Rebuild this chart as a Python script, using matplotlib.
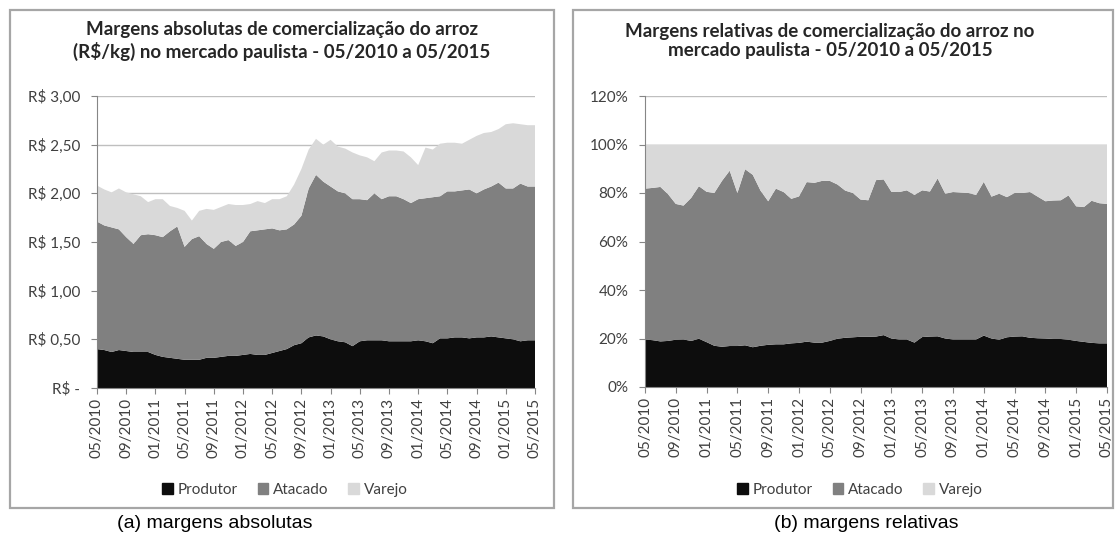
import matplotlib
matplotlib.use('Agg')
import matplotlib.pyplot as plt
from matplotlib.patches import Rectangle
import numpy as np

plt.rcParams['font.family'] = ['Lato', 'DejaVu Sans']

# meses de 05/2010 a 05/2015 (61 pontos), rótulos a cada 4 meses
tick_labels = ['05/2010', '09/2010', '01/2011', '05/2011', '09/2011', '01/2012',
               '05/2012', '09/2012', '01/2013', '05/2013', '09/2013', '01/2014',
               '05/2014', '09/2014', '01/2015', '05/2015']

# (a) margens absolutas, R$/kg
abs_produtor = [0.40, 0.39, 0.37, 0.39, 0.38, 0.37, 0.37, 0.37, 0.34, 0.32,
                0.31, 0.30, 0.29, 0.29, 0.29, 0.31, 0.31, 0.32, 0.33, 0.33,
                0.34, 0.35, 0.34, 0.34, 0.36, 0.38, 0.40, 0.44, 0.46, 0.52,
                0.54, 0.53, 0.50, 0.48, 0.47, 0.43, 0.48, 0.49, 0.49, 0.49,
                0.48, 0.48, 0.48, 0.48, 0.49, 0.48, 0.46, 0.51, 0.51, 0.52,
                0.52, 0.51, 0.52, 0.52, 0.53, 0.52, 0.51, 0.50, 0.48, 0.49, 0.49]
abs_atacado = [1.31, 1.28, 1.28, 1.24, 1.17, 1.11, 1.20, 1.21, 1.23, 1.23,
               1.30, 1.36, 1.16, 1.24, 1.27, 1.17, 1.12, 1.18, 1.19, 1.13,
               1.16, 1.26, 1.28, 1.29, 1.28, 1.24, 1.23, 1.24, 1.31, 1.53,
               1.65, 1.59, 1.57, 1.54, 1.53, 1.51, 1.46, 1.44, 1.51, 1.45,
               1.49, 1.49, 1.46, 1.42, 1.45, 1.47, 1.50, 1.46, 1.51, 1.50,
               1.51, 1.53, 1.48, 1.52, 1.54, 1.59, 1.54, 1.55, 1.62, 1.58, 1.58]
abs_varejo = [0.37, 0.37, 0.36, 0.42, 0.46, 0.51, 0.40, 0.33, 0.37, 0.39,
              0.26, 0.19, 0.37, 0.19, 0.26, 0.36, 0.40, 0.36, 0.37, 0.42,
              0.38, 0.28, 0.30, 0.27, 0.30, 0.32, 0.34, 0.41, 0.48, 0.40,
              0.37, 0.38, 0.48, 0.46, 0.46, 0.48, 0.45, 0.44, 0.33, 0.48,
              0.47, 0.47, 0.49, 0.47, 0.35, 0.52, 0.49, 0.54, 0.50, 0.50,
              0.48, 0.51, 0.59, 0.58, 0.56, 0.55, 0.66, 0.67, 0.61, 0.63, 0.63]

# (b) margens relativas, %
rel_produtor = [19.6, 19.3, 18.8, 19.0, 19.5, 19.6, 19.0, 19.9, 18.5, 17.0,
                16.6, 16.9, 16.9, 17.2, 16.4, 17.0, 17.4, 17.6, 17.6, 18.0,
                18.2, 18.7, 18.3, 18.3, 19.0, 19.9, 20.3, 20.5, 20.7, 20.7,
                20.8, 21.4, 20.0, 19.6, 19.6, 18.3, 20.6, 20.8, 20.9, 20.0,
                19.6, 19.6, 19.6, 19.6, 21.2, 20.0, 19.5, 20.5, 20.8, 20.9,
                20.3, 20.1, 20.0, 19.8, 19.8, 19.5, 19.0, 18.6, 18.2, 18.0, 18.0]
rel_atacado = [62.2, 62.8, 63.7, 60.5, 56.0, 55.2, 59.0, 62.9, 62.0, 63.0,
               68.4, 72.3, 63.1, 72.6, 71.1, 64.0, 59.2, 64.2, 62.8, 59.6,
               60.4, 65.8, 65.9, 66.7, 66.0, 63.6, 60.7, 59.5, 56.6, 56.3,
               64.5, 64.2, 60.5, 60.8, 61.5, 60.9, 60.5, 59.8, 65.1, 59.7,
               60.8, 60.6, 60.4, 59.6, 63.4, 58.5, 60.2, 57.8, 59.2, 59.1,
               60.1, 58.4, 56.6, 57.1, 57.2, 59.5, 55.5, 55.6, 58.6, 57.8, 57.5]
rel_varejo = [18.2, 17.9, 17.5, 20.5, 24.5, 25.2, 22.0, 17.2, 19.5, 20.0,
              15.0, 10.8, 20.0, 10.2, 12.5, 19.0, 23.4, 18.2, 19.6, 22.4,
              21.4, 15.5, 15.8, 15.0, 15.0, 16.5, 19.0, 20.0, 22.7, 23.0,
              14.7, 14.4, 19.5, 19.6, 18.9, 20.8, 18.9, 19.4, 14.0, 20.3,
              19.6, 19.8, 20.0, 20.8, 15.4, 21.5, 20.3, 21.7, 20.0, 20.0,
              19.6, 21.5, 23.4, 23.1, 23.0, 21.0, 25.5, 25.8, 23.2, 24.2, 24.5]

series = ['Produtor', 'Atacado', 'Varejo']
cores = ['#0d0d0d', '#808080', '#d9d9d9']
grid_cor = '#bfbfbf'
eixo_cor = '#868686'

W, H = 1119, 541
fig = plt.figure(figsize=(W / 100, H / 100), dpi=100)

# molduras dos dois gráficos (estilo Excel)
for x0, x1 in [(10, 554), (573, 1113)]:
    fig.add_artist(Rectangle((x0 / W, 1 - 508 / H), (x1 - x0) / W, 498 / H,
                             transform=fig.transFigure, fill=False,
                             edgecolor='#a6a6a6', linewidth=1.6))


def monta_eixo(ax, ymax, ystep, ylabels, legenda_x):
    ax.set_xlim(0, 60)
    ax.set_ylim(0, ymax)
    ax.set_axisbelow(True)
    ax.yaxis.grid(True, color=grid_cor, linewidth=1)
    ax.set_yticks(np.arange(0, ymax + ystep / 2, ystep))
    ax.set_yticklabels(ylabels, fontsize=11, color='#404040')
    ax.set_xticks(np.arange(0, 61, 4))
    ax.set_xticklabels(tick_labels, rotation=90, fontsize=11, color='#404040')
    for s in ['top', 'right']:
        ax.spines[s].set_visible(False)
    for s in ['left', 'bottom']:
        ax.spines[s].set_color(eixo_cor)
    ax.tick_params(axis='both', color=eixo_cor, length=4, pad=3)
    ax.tick_params(axis='y', pad=8)
    ax.legend(handles=[Rectangle((0, 0), 1, 1, color=c) for c in cores], labels=series,
              loc='center', bbox_to_anchor=(legenda_x / W, 1 - 490 / H),
              bbox_transform=fig.transFigure, ncol=3, frameon=False,
              fontsize=11, handlelength=0.7, handleheight=0.7, handletextpad=0.3,
              columnspacing=1.3, labelcolor='#404040')


x = np.arange(len(abs_produtor))

# (a)
ax1 = fig.add_axes([97 / W, 1 - 388 / H, 438 / W, 292 / H])
ax1.stackplot(x, abs_produtor, abs_atacado, abs_varejo, colors=cores, linewidth=0)
monta_eixo(ax1, 3.0, 0.5, ['R$ -', 'R$ 0,50', 'R$ 1,00', 'R$ 1,50',
                           'R$ 2,00', 'R$ 2,50', 'R$ 3,00'], 285)
fig.text(282 / W, 1 - 41 / H,
         'Margens absolutas de comercialização do arroz\n(R$/kg) no mercado paulista - 05/2010 a 05/2015',
         ha='center', va='center', fontsize=13.5, fontweight='bold', color='#262626',
         linespacing=1.2)

# (b)
ax2 = fig.add_axes([645 / W, 1 - 387 / H, 462 / W, 291 / H])
ax2.stackplot(x, rel_produtor, rel_atacado, rel_varejo, colors=cores, linewidth=0)
monta_eixo(ax2, 120, 20, ['0%', '20%', '40%', '60%', '80%', '100%', '120%'], 860)
fig.text(830 / W, 1 - 41 / H,
         'Margens relativas de comercialização do arroz no\nmercado paulista - 05/2010 a 05/2015',
         ha='center', va='center', fontsize=13.5, fontweight='bold', color='#262626',
         linespacing=1.2)

# legendas das figuras
fig.text(215 / W, 1 - 524 / H, '(a) margens absolutas', ha='center', va='center',
         fontsize=14, family=['Liberation Sans', 'DejaVu Sans'])
fig.text(866 / W, 1 - 524 / H, '(b) margens relativas', ha='center', va='center',
         fontsize=14, family=['Liberation Sans', 'DejaVu Sans'])

plt.savefig('out.png', dpi=100)
